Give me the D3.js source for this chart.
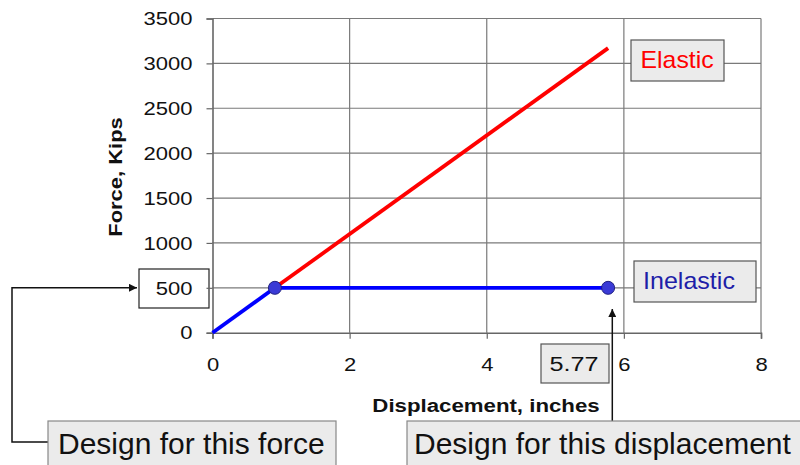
<!DOCTYPE html>
<html><head><meta charset="utf-8">
<script src="https://cdn.jsdelivr.net/npm/d3@7"></script>
<style>body{margin:0;background:#fff}svg{display:block}text{font-family:Arial,"Liberation Sans",sans-serif}</style>
</head><body>
<svg id="c" width="800" height="465"></svg>
<script>
const xTicks = [0, 2, 4, 6, 8];
const yTicks = [0, 500, 1000, 1500, 2000, 2500, 3000, 3500];
const elastic = [[0.91, 500], [5.77, 3170]];
const inelasticRise = [[0, 0], [0.91, 500]];
const inelasticFlat = [[0.91, 500], [5.77, 500]];
const points = [[0.91, 500], [5.77, 500]];
const designForce = 500;
const designDisp = 5.77;

const svg = d3.select("#c");
const x = d3.scaleLinear().domain([0, 8]).range([212.5, 761]);
const y = d3.scaleLinear().domain([0, 3500]).range([332.7, 18.5]);

function box(x0, y0, w, h, fill, stroke) {
  svg.append("rect").attr("x", x0).attr("y", y0).attr("width", w).attr("height", h)
    .attr("fill", fill).attr("stroke", stroke).attr("stroke-width", 1.2);
}
function stext(tx, ty, sx, str, size, opts) {
  const t = svg.append("text").attr("transform", `translate(${tx},${ty}) ${opts.rot ? "rotate(-90)" : ""} scale(${sx},1)`)
    .attr("font-size", size).attr("fill", opts.fill || "#111")
    .attr("text-anchor", opts.anchor || "start").text(str);
  if (opts.bold) t.attr("font-weight", "bold");
  return t;
}

// grid
const g = svg.append("g");
g.selectAll(".hg").data(yTicks.slice(1)).join("line")
  .attr("x1", x(0)).attr("x2", x(8)).attr("y1", d => y(d)).attr("y2", d => y(d))
  .attr("stroke", "#7a7a7a").attr("stroke-width", 1.2);
g.selectAll(".vg").data(xTicks.slice(1)).join("line")
  .attr("x1", d => x(d)).attr("x2", d => x(d)).attr("y1", y(3500)).attr("y2", y(0))
  .attr("stroke", "#7a7a7a").attr("stroke-width", 1.2);

// 500 box (behind the tick label)
box(139, 269, 70, 39, "#fff", "#222");

// axes
const ya = d3.axisLeft(y).tickValues(yTicks).tickSize(6).tickFormat(d3.format("d"));
const xa = d3.axisBottom(x).tickValues(xTicks).tickSize(6).tickFormat(d3.format("d"));
const yg = svg.append("g").attr("transform", `translate(${x(0)},0)`).call(ya);
const xg = svg.append("g").attr("transform", `translate(0,${y(0)})`).call(xa);
[yg, xg].forEach(a => {
  a.select(".domain").attr("stroke", "#666").attr("stroke-width", 1.6);
  a.selectAll(".tick line").attr("stroke", "#666").attr("stroke-width", 1.2);
  a.selectAll(".tick text").attr("font-size", 18.5).attr("fill", "#111")
    .attr("font-family", "Arial, 'Liberation Sans', sans-serif");
});
yg.selectAll(".tick text").attr("x", 0).attr("dy", "0.34em").attr("transform", "translate(-20,0) scale(1.19,1)");
xg.selectAll(".tick text").attr("y", 0).attr("dy", "0.71em").attr("transform", "translate(0,25) scale(1.19,1)");

// axis titles
stext(486, 412, 1.27, "Displacement, inches", 17.5, {bold: true, anchor: "middle"});
stext(122, 177, 1.22, "Force, Kips", 18, {bold: true, anchor: "middle", rot: true});

// lines
const line = d3.line().x(d => x(d[0])).y(d => y(d[1]));
svg.append("path").datum(elastic).attr("d", line).attr("fill", "none").attr("stroke", "#ff0000").attr("stroke-width", 3.8);
svg.append("path").datum(inelasticRise).attr("d", line).attr("fill", "none").attr("stroke", "#0000ff").attr("stroke-width", 3.8);
svg.append("path").datum(inelasticFlat).attr("d", line).attr("fill", "none").attr("stroke", "#0000ff").attr("stroke-width", 3.8);
svg.selectAll(".pt").data(points).join("circle")
  .attr("cx", d => x(d[0])).attr("cy", d => y(d[1])).attr("r", 6.5)
  .attr("fill", "#3a3ad6").attr("stroke", "#202080").attr("stroke-width", 1);

// legend boxes
box(631, 40, 93, 41, "#ebebeb", "#555");
stext(640.5, 67.5, 1.08, "Elastic", 23, {fill: "#ff0000"});
box(634, 261, 122, 41, "#ebebeb", "#555");
stext(643, 289, 1.09, "Inelastic", 23, {fill: "#1e1ea8"});

// 5.77 box
box(541, 344, 68, 39, "#ebebeb", "#555");
stext(574, 371, 1.2, String(designDisp), 21, {anchor: "middle"});

// arrows
const defs = svg.append("defs");
defs.append("marker").attr("id", "ah").attr("viewBox", "0 0 10 10").attr("refX", 10).attr("refY", 5)
  .attr("markerWidth", 8).attr("markerHeight", 8).attr("markerUnits", "userSpaceOnUse").attr("orient", "auto")
  .append("path").attr("d", "M0,0L10,5L0,10z").attr("fill", "#111");
svg.append("path").attr("d", `M48,442H12V${y(designForce)}H137`).attr("fill", "none")
  .attr("stroke", "#111").attr("stroke-width", 1.5).attr("marker-end", "url(#ah)");
svg.append("path").attr("d", `M612.3,421V309`).attr("fill", "none")
  .attr("stroke", "#111").attr("stroke-width", 1.5).attr("marker-end", "url(#ah)");

// design boxes
box(48, 421, 288, 50, "#ebebeb", "#888");
svg.append("text").attr("x", 58).attr("y", 454).attr("font-size", 30).attr("fill", "#111").text("Design for this force");
box(407, 421, 400, 50, "#ebebeb", "#888");
svg.append("text").attr("x", 414).attr("y", 454).attr("font-size", 30).attr("fill", "#111").text("Design for this displacement");
</script>
</body></html>
